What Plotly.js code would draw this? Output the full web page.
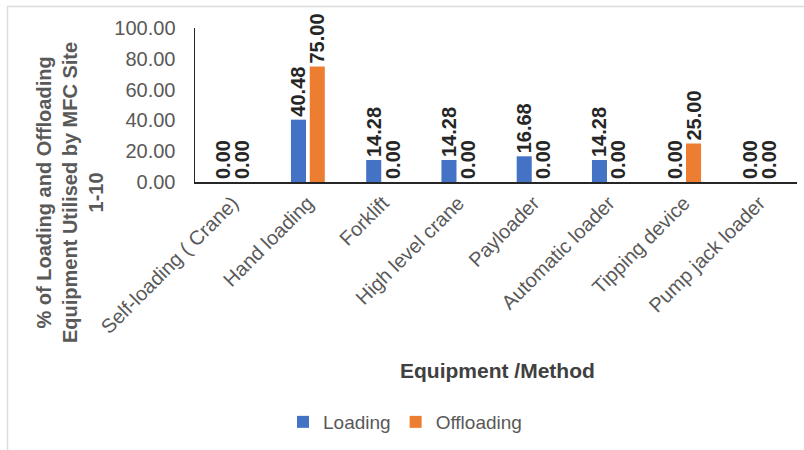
<!DOCTYPE html>
<html><head><meta charset="utf-8">
<script src="https://cdn.plot.ly/plotly-3.0.1.min.js"></script>
<style>html,body{margin:0;padding:0;background:#fff}#c{width:804px;height:450px}</style>
</head><body><div id="c"></div>
<script>
const categories = ["Self-loading ( Crane)", "Hand loading", "Forklift", "High level crane", "Payloader", "Automatic loader", "Tipping device", "Pump jack loader"];
const loading = [0.00, 40.48, 14.28, 14.28, 16.68, 14.28, 0.00, 0.00];
const offloading = [0.00, 75.00, 0.00, 0.00, 0.00, 0.00, 25.00, 0.00];
const tickVals = [0, 20, 40, 60, 80, 100];
const tickText = ["0.00", "20.00", "40.00", "60.00", "80.00", "100.00"];
const yTitle = "% of Loading and Offloading<br>Equipment Utilised by MFC Site<br>1-10";
const xTitle = "Equipment /Method";

const F = "Liberation Sans, Arial, sans-serif";
// plot area: x 195..797, y 28..182 (pixels)
const px = x => (x - 195) / 602;
const py = y => (182 - y) / 154;
function mk(name, vals, color) {
  return {
    type: "bar", name: name, x: categories, y: vals,
    marker: {color: color},
    text: vals.map(v => v.toFixed(2)),
    textposition: "outside", textangle: -90, constraintext: "none",
    cliponaxis: false,
    textfont: {family: F, size: 20, color: "#262626", weight: "bold"},
    hoverinfo: "skip"
  };
}
const data = [mk("Loading", loading, "#4472C4"), mk("Offloading", offloading, "#ED7D31")];
const layout = {
  width: 804, height: 450,
  margin: {l: 195, r: 7, t: 28, b: 268},
  paper_bgcolor: "#fff", plot_bgcolor: "#fff",
  font: {family: F, color: "#595959"},
  barmode: "group", bargap: 0.5, bargroupgap: 0.2,
  showlegend: true,
  legend: {orientation: "h", x: px(405), xref: "paper", xanchor: "center", y: py(422), yanchor: "middle",
    font: {family: F, size: 19, color: "#595959"}, itemwidth: 30, traceorder: "normal"},
  xaxis: {
    tickangle: -45, tickfont: {family: F, size: 20, color: "#595959"},
    showline: true, linecolor: "#262626", linewidth: 1.5, ticks: "", showgrid: false
  },
  yaxis: {
    range: [0, 100], tickvals: tickVals, ticktext: tickText,
    tickfont: {family: F, size: 20, color: "#595959"}, ticklabelstandoff: 14,
    showline: true, linecolor: "#262626", linewidth: 1.5, ticks: "", showgrid: false, zeroline: false
  },
  annotations: [
    {text: "<b>" + yTitle + "</b>", xref: "paper", yref: "paper", x: px(70), y: py(193),
     xanchor: "center", yanchor: "middle", textangle: -90, showarrow: false,
     font: {family: F, size: 20, color: "#595959"}},
    {text: "<b>" + xTitle + "</b>", xref: "paper", yref: "paper", x: px(497), y: py(370),
     xanchor: "center", yanchor: "middle", showarrow: false,
     font: {family: F, size: 21, color: "#404040"}}
  ],
  shapes: [
    {type: "line", xref: "paper", yref: "paper", x0: px(7), x1: px(804), y0: py(6.5), y1: py(6.5),
     line: {color: "#dcdcdc", width: 1.5}, layer: "below"},
    {type: "line", xref: "paper", yref: "paper", x0: px(7.5), x1: px(7.5), y0: py(6), y1: py(450),
     line: {color: "#dcdcdc", width: 1.5}, layer: "below"}
  ]
};
Plotly.newPlot("c", data, layout, {displayModeBar: false, staticPlot: true});
</script></body></html>
